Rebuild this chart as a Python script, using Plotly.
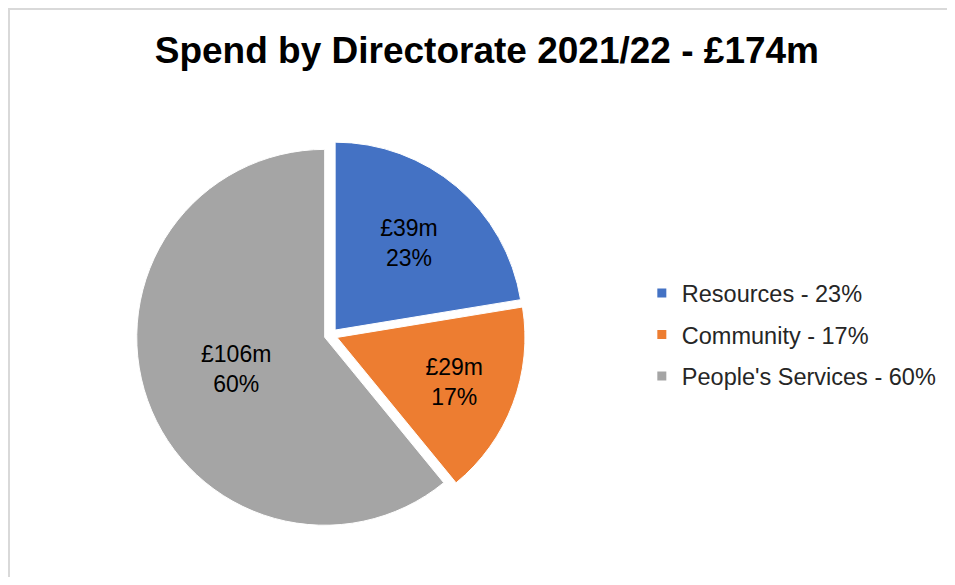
import plotly.graph_objects as go

directorates = ["Resources", "Community", "People's Services"]
spend_m = [39, 29, 106]
spend_labels = ["£39m", "£29m", "£106m"]
pct_labels = ["23%", "17%", "60%"]
colors = ["#4472C4", "#ED7D31", "#A5A5A5"]
title_text = "Spend by Directorate 2021/22 - £174m"

legend_names = [f"{d} - {p}" for d, p in zip(directorates, pct_labels)]
slice_text = [f"{s}<br>{p}" for s, p in zip(spend_labels, pct_labels)]

W, H = 939, 569

fig = go.Figure()
fig.add_trace(go.Pie(
    labels=legend_names,
    values=spend_m,
    text=slice_text,
    textinfo="text",
    textposition="inside",
    insidetextorientation="horizontal",
    insidetextfont=dict(family="Liberation Sans, Arial, sans-serif", size=23, color="#000000"),
    marker=dict(colors=colors, line=dict(color="#FFFFFF", width=1)),
    pull=[0.035, 0.035, 0.035],
    sort=False,
    direction="clockwise",
    rotation=0,
    hoverinfo="label+value",
    showlegend=False,
    domain=dict(x=[0.1367, 0.551], y=[0.0833, 0.767]),
))

for name, col in zip(legend_names, colors):
    fig.add_trace(go.Scatter(
        x=[None], y=[None], mode="markers", name=name, legendgroup=name,
        marker=dict(symbol="square", size=9, color=col),
        showlegend=True,
    ))

fig.update_layout(
    width=W, height=H,
    margin=dict(l=0, r=0, t=0, b=0, autoexpand=False),
    paper_bgcolor="#FFFFFF",
    plot_bgcolor="#FFFFFF",
    xaxis=dict(visible=False),
    yaxis=dict(visible=False),
    title=dict(
        text=f"<b>{title_text}</b>",
        font=dict(family="Liberation Sans, Arial, sans-serif", size=37, color="#000000"),
        x=0.510, xref="container", xanchor="center",
        y=0.926, yref="container", yanchor="middle",
    ),
    legend=dict(
        x=0.675, y=0.426, xanchor="left", yanchor="middle",
        font=dict(family="Liberation Sans, Arial, sans-serif", size=23.5, color="#262626"),
        tracegroupgap=8,
        itemwidth=30,
        bgcolor="rgba(0,0,0,0)",
    ),
    shapes=[dict(
        type="rect", xref="paper", yref="paper",
        x0=1.0 / W, x1=1.05, y0=-0.05, y1=1 - 1.0 / H,
        line=dict(color="#D9D9D9", width=2), fillcolor="rgba(0,0,0,0)", layer="below",
    )],
)

fig.write_html("out.html")
